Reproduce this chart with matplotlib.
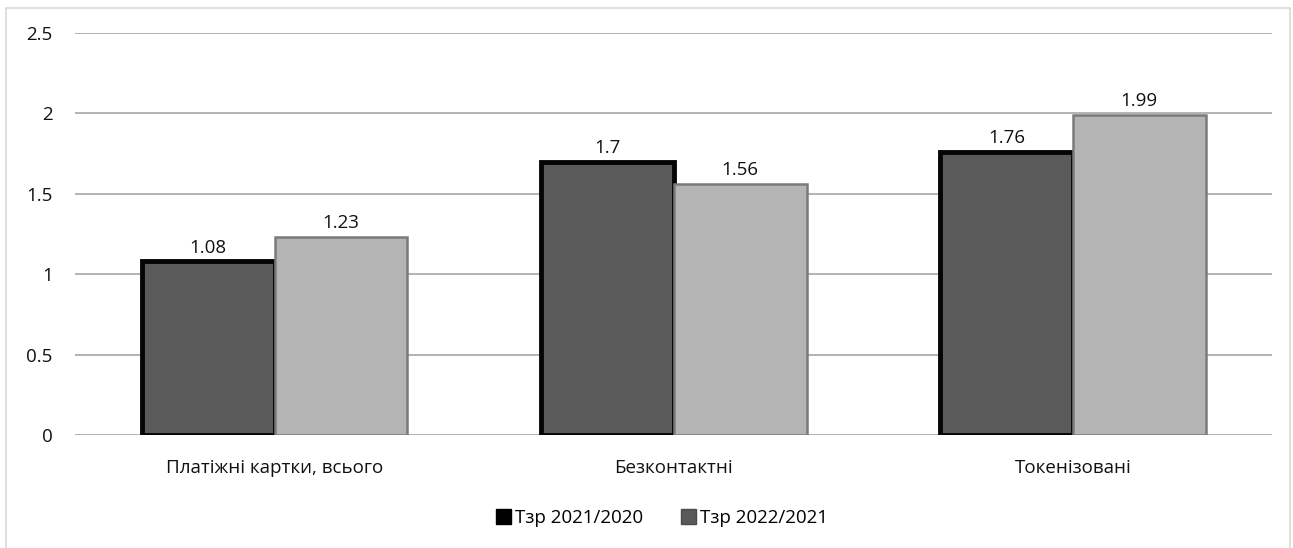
import numpy as np
import matplotlib.pyplot as plt
from matplotlib.patches import Rectangle, Patch

categories = ['Платіжні картки, всього', 'Безконтактні', 'Токенізовані']
series_names = ['Тзр 2021/2020', 'Тзр 2022/2021']
tzr_2021 = [1.08, 1.70, 1.76]
tzr_2022 = [1.23, 1.56, 1.99]
yticks = [0, 0.5, 1, 1.5, 2, 2.5]
ytick_labels = ['0', '0.5', '1', '1.5', '2', '2.5']


def main():
    plt.rcParams['font.family'] = ['Open Sans', 'DejaVu Sans']
    fs = 13.5
    fig = plt.figure(figsize=(12.93, 5.48), dpi=100)
    ax = fig.add_axes([0.058, 0.206, 0.926, 0.734])

    x = np.arange(len(categories))
    w = 0.333

    # сітка
    for t in yticks:
        ax.axhline(t, color='#a6a6a6', linewidth=1.2, zorder=0)

    b1 = ax.bar(x - w / 2, tzr_2021, w, color='#5a5a5a', edgecolor='#050505',
                linewidth=3.5, zorder=2)
    b2 = ax.bar(x + w / 2, tzr_2022, w, color='#b4b4b4', edgecolor='#7a7a7a',
                linewidth=1.8, zorder=2)

    for bars, vals in [(b1, tzr_2021), (b2, tzr_2022)]:
        for rect, v in zip(bars, vals):
            ax.text(rect.get_x() + rect.get_width() / 2, v + 0.03, f'{v:g}',
                    ha='center', va='bottom', fontsize=fs, color='#111111')

    ax.set_xlim(-0.5, len(categories) - 0.5)
    ax.set_ylim(0, 2.5)
    ax.set_yticks(yticks)
    ax.set_yticklabels(ytick_labels, fontsize=fs)
    ax.set_xticks(x)
    ax.set_xticklabels(categories, fontsize=fs)
    ax.tick_params(axis='y', length=0, pad=16, labelcolor='#111111')
    ax.tick_params(axis='x', length=0, pad=17, labelcolor='#111111')
    for s in ax.spines.values():
        s.set_visible(False)

    handles = [Patch(facecolor='#000000', edgecolor='#000000'),
               Patch(facecolor='#5a5a5a', edgecolor='#4a4a4a')]
    fig.legend(handles, series_names, loc='center', bbox_to_anchor=(0.512, 0.055),
               ncol=2, frameon=False, fontsize=fs, handlelength=0.8,
               handleheight=0.8, handletextpad=0.2, columnspacing=2.0)

    # рамка області діаграми
    fig.patches.append(Rectangle((6 / 1293, -0.01), 1284 / 1293, 1.0 - 8 / 548 + 0.01,
                                 transform=fig.transFigure, fill=False,
                                 edgecolor='#d9d9d9', linewidth=1.2))

    fig.savefig('out.png', dpi=100)


if __name__ == '__main__':
    main()
